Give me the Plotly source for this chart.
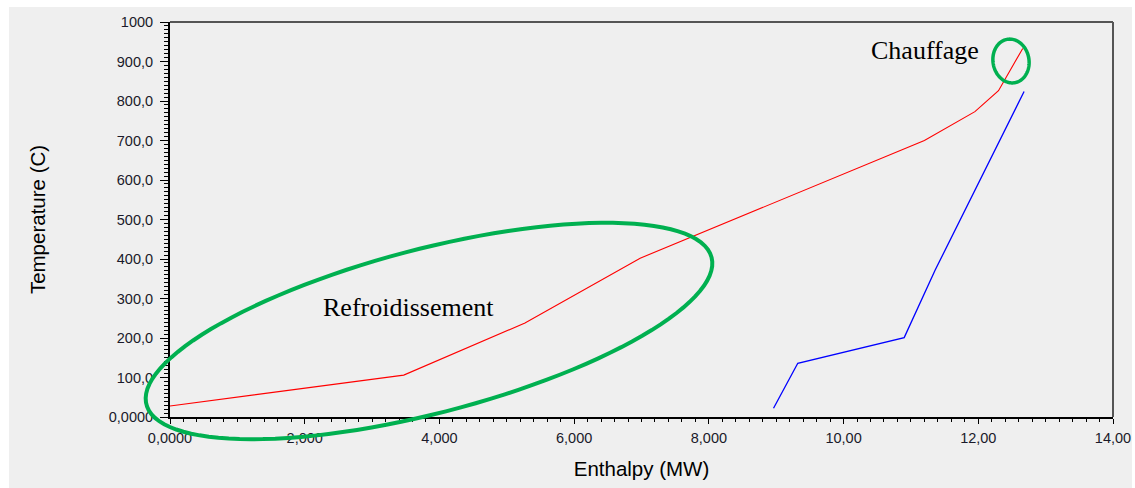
import numpy as np
import plotly.graph_objects as go

# ---- data ----
hot_enthalpy = [0.0, 3.47, 5.27, 6.98, 11.2, 11.95, 12.3, 12.66]
hot_temp = [28, 106, 238, 402, 700, 773, 826, 933]

cold_enthalpy = [8.96, 9.32, 10.9, 11.36, 12.68]
cold_temp = [22, 136, 201, 372, 824]

x_tickvals = [0, 2, 4, 6, 8, 10, 12, 14]
x_ticktext = ["0,0000", "2,000", "4,000", "6,000", "8,000", "10,00", "12,00", "14,00"]
y_tickvals = [0, 100, 200, 300, 400, 500, 600, 700, 800, 900, 1000]
y_ticktext = ["0,0000", "100,0", "200,0", "300,0", "400,0", "500,0", "600,0",
              "700,0", "800,0", "900,0", "1000"]

# ---- layout geometry (pixels) ----
W, H = 1135, 488
L, R, T, B = 170, 1113, 22, 417


def px(x):
    return (x - L) / (R - L)


def py(y):
    return (B - y) / (B - T)


def ellipse_path(cx, cy, a, b, ang_deg, n=120):
    th = np.linspace(0, 2 * np.pi, n)
    ang = np.radians(ang_deg)
    xs = cx + a * np.cos(th) * np.cos(ang) + b * np.sin(th) * np.sin(ang)
    ys = cy - a * np.cos(th) * np.sin(ang) + b * np.sin(th) * np.cos(ang)
    pts = [f"{px(x):.5f},{py(y):.5f}" for x, y in zip(xs, ys)]
    return "M " + " L ".join(pts) + " Z"


fig = go.Figure()
fig.add_trace(go.Scatter(x=hot_enthalpy, y=hot_temp, mode="lines",
                         line=dict(color="#ff0000", width=1.1), showlegend=False))
fig.add_trace(go.Scatter(x=cold_enthalpy, y=cold_temp, mode="lines",
                         line=dict(color="#0000ff", width=1.3), showlegend=False))

sans = "Liberation Sans, Arial, sans-serif"
tickfont = dict(family=sans, size=14.5, color="#1a1a2a")

fig.update_xaxes(range=[0, 14], tickvals=x_tickvals, ticktext=x_ticktext,
                 automargin=False,
                 ticks="outside", ticklen=5, tickwidth=1, tickcolor="black",
                 ticklabelstandoff=2,
                 showline=True, linecolor="black", linewidth=2,
                 showgrid=False, zeroline=False, tickfont=tickfont,
                 minor=dict(dtick=0.2, ticks="outside", ticklen=3, tickcolor="black", tickwidth=1),
                 title=dict(text="Enthalpy (MW)", standoff=16,
                            font=dict(family=sans, size=20.5, color="black")))
fig.update_yaxes(range=[0, 1000], tickvals=y_tickvals, ticktext=y_ticktext,
                 automargin=False,
                 ticks="outside", ticklen=8, tickwidth=1, tickcolor="black",
                 ticklabelstandoff=4,
                 showline=True, linecolor="black", linewidth=2,
                 showgrid=False, zeroline=False, tickfont=tickfont,
                 minor=dict(dtick=10, ticks="outside", ticklen=4, tickcolor="black", tickwidth=1),
                 title=dict(text="Temperature (C)", standoff=58,
                            font=dict(family=sans, size=20.5, color="black")))

shapes = [
    # gray canvas
    dict(type="rect", xref="paper", yref="paper", x0=px(9), x1=px(1132), y0=py(488), y1=py(7),
         fillcolor="#efefef", line=dict(width=0), layer="below"),
    # top and right frame
    dict(type="line", xref="paper", yref="paper", x0=0, x1=1, y0=1, y1=1,
         line=dict(color="#555555", width=2)),
    dict(type="line", xref="paper", yref="paper", x0=1, x1=1, y0=0, y1=1,
         line=dict(color="#555555", width=2)),
    # green ellipses
    dict(type="path", xref="paper", yref="paper", path=ellipse_path(429, 331, 292, 82, 14.6),
         line=dict(color="#00b050", width=4)),
    dict(type="path", xref="paper", yref="paper", path=ellipse_path(1011, 61, 18, 22, 10),
         line=dict(color="#00b050", width=3.5)),
]

annotations = [
    dict(text="Refroidissement", xref="paper", yref="paper", x=px(408), y=py(307),
         showarrow=False, xanchor="center", yanchor="middle",
         font=dict(family="Liberation Serif, Times New Roman, serif", size=26, color="black")),
    dict(text="Chauffage", xref="paper", yref="paper", x=px(925), y=py(50),
         showarrow=False, xanchor="center", yanchor="middle",
         font=dict(family="Liberation Serif, Times New Roman, serif", size=26, color="black")),
]

fig.update_layout(width=W, height=H,
                  margin=dict(l=L, r=W - R, t=T, b=H - B, pad=0, autoexpand=False),
                  paper_bgcolor="white", plot_bgcolor="#efefef",
                  shapes=shapes, annotations=annotations, showlegend=False)

fig.write_html("out.html", config={"displayModeBar": False},
               post_script="document.body.style.margin='0';document.body.style.overflow='hidden';")
